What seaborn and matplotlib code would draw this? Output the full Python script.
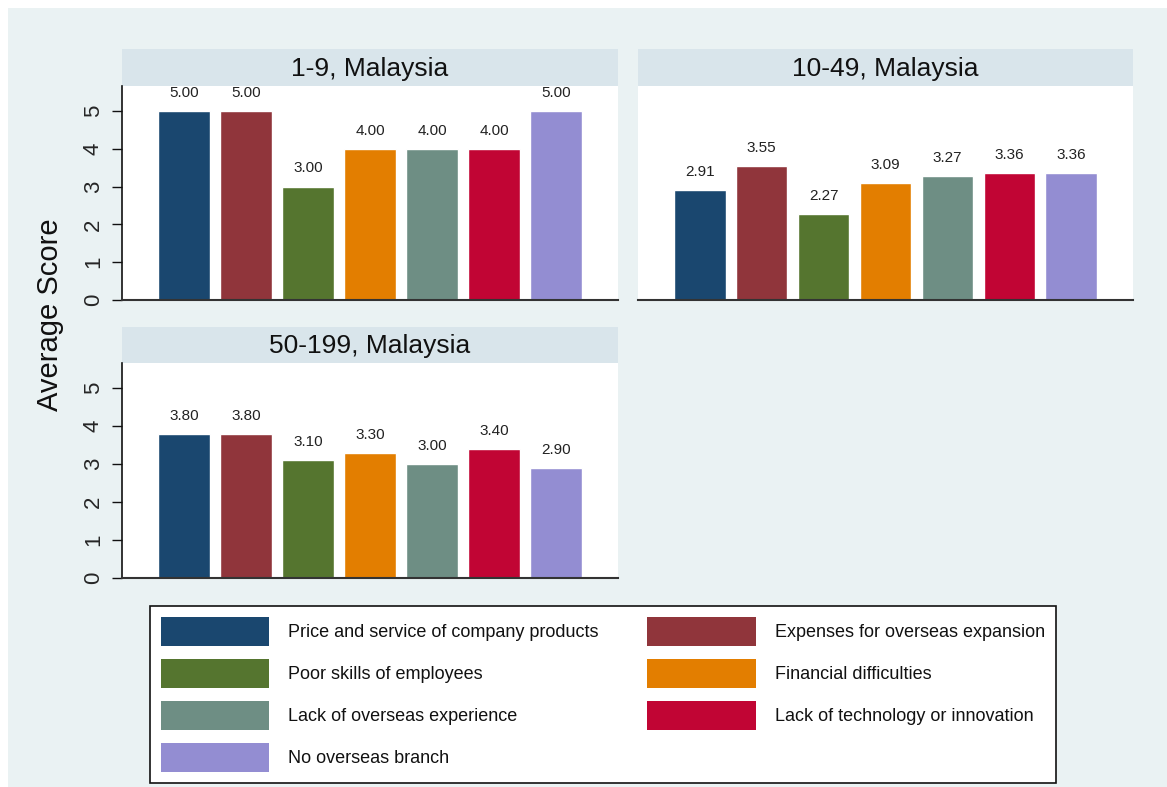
import pandas as pd
import matplotlib.pyplot as plt
import seaborn as sns
from matplotlib.patches import Patch, Rectangle

# data
categories = ['Price and service of company products', 'Expenses for overseas expansion',
              'Poor skills of employees', 'Financial difficulties',
              'Lack of overseas experience', 'Lack of technology or innovation',
              'No overseas branch']
colors = ['#1a476f', '#90353b', '#55752f', '#e37e00', '#6e8e84', '#c10534', '#938dd2']
panels = ['1-9, Malaysia', '10-49, Malaysia', '50-199, Malaysia']
scores_1_9 = [5.00, 5.00, 3.00, 4.00, 4.00, 4.00, 5.00]
scores_10_49 = [2.91, 3.55, 2.27, 3.09, 3.27, 3.36, 3.36]
scores_50_199 = [3.80, 3.80, 3.10, 3.30, 3.00, 3.40, 2.90]
all_scores = [scores_1_9, scores_10_49, scores_50_199]

sns.set_style('white')
plt.rcParams['font.family'] = ['Liberation Sans', 'DejaVu Sans']

W, H = 1167, 787
fig = plt.figure(figsize=(W / 100, H / 100), dpi=100)
fig.patch.set_facecolor('white')

def box(x0, y0, x1, y1):
    return [x0 / W, 1 - y1 / H, (x1 - x0) / W, (y1 - y0) / H]

# outer background
fig.patches.append(Rectangle((8 / W, 0), 1, 1 - 8 / H, transform=fig.transFigure,
                             facecolor='#eaf2f3', edgecolor='none', zorder=-10))

# panel positions in pixels: (left, right, strip top, plot top, plot bottom)
layout = [(122, 618, 49, 86, 300), (638, 1133, 49, 86, 300), (122, 618, 327, 363, 578)]
palette = dict(zip(categories, colors))

for i, (title, scores) in enumerate(zip(panels, all_scores)):
    x0, x1, st, pt, pb = layout[i]
    df = pd.DataFrame({'category': categories, 'score': scores})

    # strip title (added first so the bar labels sit above it)
    sax = fig.add_axes(box(x0, st, x1, pt))
    sax.set_facecolor('#d9e5eb')
    sax.set_xticks([])
    sax.set_yticks([])
    for s in sax.spines.values():
        s.set_visible(False)
    sax.text(0.5, 0.47, title, ha='center', va='center', fontsize=19, color='#111111',
             transform=sax.transAxes)

    ax = fig.add_axes(box(x0, pt, x1, pb))
    sns.barplot(data=df, x='category', y='score', hue='category', order=categories,
                hue_order=categories, palette=palette, width=0.83, saturation=1,
                legend=False, ax=ax)
    ax.set_facecolor('white')
    ax.set_xlim(-1, 7)
    ax.set_ylim(0, 5.66)
    ax.set_xlabel('')
    ax.set_ylabel('')
    ax.set_xticks([])
    for c in ax.containers:
        labs = ax.bar_label(c, fmt='%.2f', padding=8, fontsize=11, color='#222222')
        for t in labs:
            t.set_clip_on(False)

    for s in ['top', 'right']:
        ax.spines[s].set_visible(False)
    ax.spines['bottom'].set_color('#333333')
    ax.spines['bottom'].set_linewidth(1.5)
    if i == 1:
        ax.spines['left'].set_visible(False)
        ax.set_yticks([])
    else:
        ax.spines['left'].set_color('#111111')
        ax.spines['left'].set_linewidth(1.2)
        ax.set_yticks([0, 1, 2, 3, 4, 5])
        ax.tick_params(axis='y', direction='out', length=7, width=1, color='#111111',
                       labelsize=16, pad=6, left=True)
        for lab in ax.get_yticklabels():
            lab.set_rotation(90)
            lab.set_va('center')
            lab.set_ha('right')

fig.text(50 / W, 1 - 315 / H, 'Average Score', rotation=90, ha='center', va='center',
         fontsize=21, color='#111111')

# legend, row-wise order
handles = [Patch(facecolor=c, edgecolor='none') for c in colors]
order = [0, 2, 4, 6, 1, 3, 5]
leg = fig.legend([handles[k] for k in order], [categories[k] for k in order],
                 loc='upper left', bbox_to_anchor=(150 / W, 1 - 606 / H), ncol=2,
                 fontsize=13, handlelength=6.0, handleheight=2.1, handletextpad=1.05,
                 columnspacing=2.7, labelspacing=0.72, borderpad=0.6, borderaxespad=0,
                 frameon=True, fancybox=False, framealpha=1)
leg.get_frame().set_edgecolor('#111111')
leg.get_frame().set_linewidth(1.2)
for t in leg.get_texts():
    t.set_color('#111111')

fig.savefig('out.png', dpi=100)
